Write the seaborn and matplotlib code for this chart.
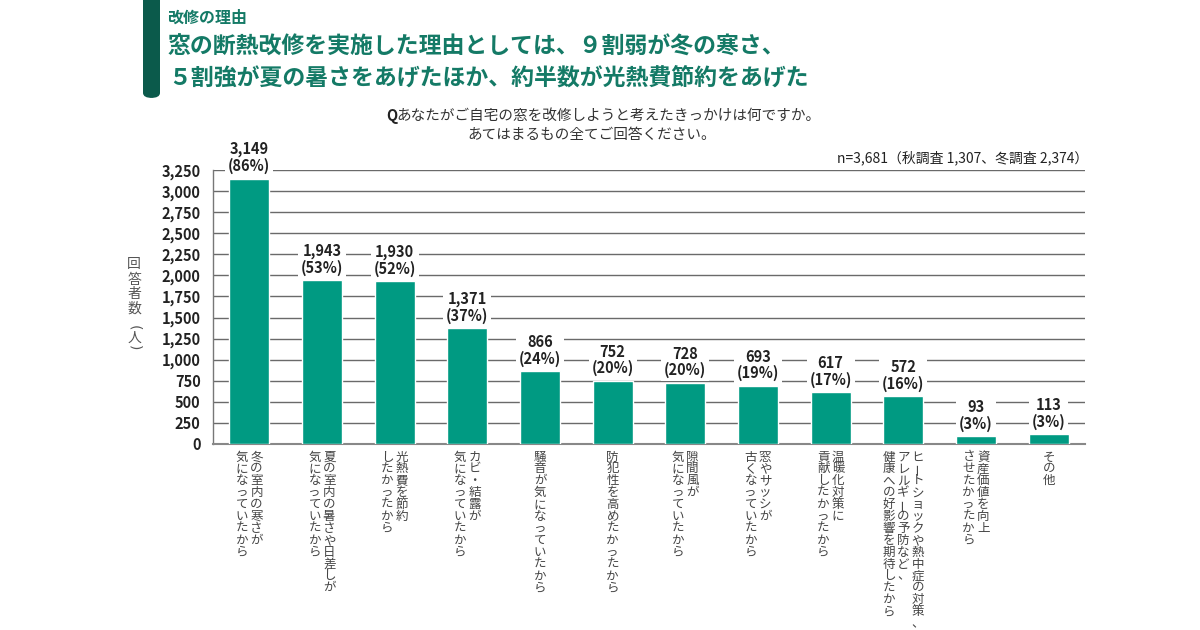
import matplotlib
matplotlib.use("Agg")
import matplotlib.pyplot as plt
import matplotlib.transforms as mtransforms
from matplotlib.patches import FancyBboxPatch
import seaborn as sns
import pandas as pd

# ---------------- data ----------------
categories = [
    "冬の室内の寒さが気になっていたから",
    "夏の室内の暑さや日差しが気になっていたから",
    "光熱費を節約したかったから",
    "カビ・結露が気になっていたから",
    "騒音が気になっていたから",
    "防犯性を高めたかったから",
    "隙間風が気になっていたから",
    "窓やサッシが古くなっていたから",
    "温暖化対策に貢献したかったから",
    "ヒートショックや熱中症の対策、アレルギーの予防など、健康への好影響を期待したから",
    "資産価値を向上させたかったから",
    "その他",
]
label_columns = [
    ["冬の室内の寒さが", "気になっていたから"],
    ["夏の室内の暑さや日差しが", "気になっていたから"],
    ["光熱費を節約", "したかったから"],
    ["カビ・結露が", "気になっていたから"],
    ["騒音が気になっていたから"],
    ["防犯性を高めたかったから"],
    ["隙間風が", "気になっていたから"],
    ["窓やサッシが", "古くなっていたから"],
    ["温暖化対策に", "貢献したかったから"],
    ["ヒートショックや熱中症の対策、", "アレルギーの予防など、", "健康への好影響を期待したから"],
    ["資産価値を向上", "させたかったから"],
    ["その他"],
]
counts = [3149, 1943, 1930, 1371, 866, 752, 728, 693, 617, 572, 93, 113]
percents = [86, 53, 52, 37, 24, 20, 20, 19, 17, 16, 3, 3]
y_ticks = [0, 250, 500, 750, 1000, 1250, 1500, 1750, 2000, 2250, 2500, 2750, 3000, 3250]

header_small = "改修の理由"
title_lines = ["窓の断熱改修を実施した理由としては、９割弱が冬の寒さ、",
               "５割強が夏の暑さをあげたほか、約半数が光熱費節約をあげた"]
question_q = "Q"
question_lines = ["あなたがご自宅の窓を改修しようと考えたきっかけは何ですか。",
                  "あてはまるもの全てご回答ください。"]
n_note = "n=3,681（秋調査 1,307、冬調査 2,374）"
y_label = ["回", "答", "者", "数", "(", "人", ")"]

# ---------------- style ----------------
sns.set_theme(style="white")
plt.rcParams["font.family"] = ["Noto Sans CJK JP", "DejaVu Sans"]
NUM_FONT = ["Noto Sans CJK JP", "DejaVu Sans"]

BAR = "#009a82"
DARK = "#0b5a4b"
TITLE = "#147a66"
TXT = "#333333"

W, H = 1200, 630
fig = plt.figure(figsize=(12, 6.3), dpi=100)
fig.patch.set_facecolor("white")


def fx(x):
    return x / W


def fy(y):
    return 1 - y / H


ax = fig.add_axes([fx(213), fy(444), fx(1085) - fx(213), fy(170) - fy(444)])

df = pd.DataFrame({"cat": categories, "count": counts})
sns.barplot(data=df, x="cat", y="count", color=BAR, saturation=1, width=0.55,
            ax=ax, zorder=3)

ax.set_xlim(-0.5, len(categories) - 0.5)
ax.set_ylim(0, 3250)
ax.set_yticks(y_ticks)
ax.set_yticklabels([f"{v:,}" for v in y_ticks], fontfamily=NUM_FONT,
                   fontweight="bold", fontsize=10.5, color="#222222")
ax.tick_params(axis="y", length=5, width=1, color="#666666", pad=4)
ax.set_xticks(range(len(categories)))
ax.set_xticklabels([])
ax.tick_params(axis="x", length=0)
ax.set_xlabel("")
ax.set_ylabel("")
ax.yaxis.grid(True, color="#6a6a6a", linewidth=1, zorder=0)
ax.set_axisbelow(True)
for s in ["top", "right"]:
    ax.spines[s].set_visible(False)
ax.spines["left"].set_color("#777777")
ax.spines["left"].set_linewidth(1)
ax.spines["bottom"].set_color("#888888")
ax.spines["bottom"].set_linewidth(1.5)

# value labels
for i, (c, p) in enumerate(zip(counts, percents)):
    ax.annotate(f"{c:,}\n({p}%)", xy=(i, c), xytext=(0, 3), textcoords="offset points",
                ha="center", va="bottom", fontsize=10.5, fontweight="bold",
                fontfamily=NUM_FONT, color="#222222", linespacing=1.05, zorder=5,
                bbox=dict(boxstyle="square,pad=0.2", fc="white", ec="none"))

# vertical category labels
blend = mtransforms.blended_transform_factory(ax.transData, fig.transFigure)
step = 11.9
col_gap = 14.5
for i, cols in enumerate(label_columns):
    n = len(cols)
    for j, col in enumerate(cols):
        dx = ((n - 1) / 2 - j) * col_gap
        off = mtransforms.ScaledTranslation(dx / 100, 0, fig.dpi_scale_trans)
        for k, ch in enumerate(col):
            rot = 90 if ch == "ー" else 0
            fig.text(i, fy(457 + k * step), ch, transform=blend + off,
                     ha="center", va="center", fontsize=9, color="#444444",
                     rotation=rot)

# y label (vertical)
y_pos = [264, 280, 294, 309, 328, 338, 348]
for ch, yy in zip(y_label, y_pos):
    if ch in "()":
        fig.text(fx(134), fy(yy), ch, ha="center", va="center", fontsize=10,
                 color="#555555", rotation=-90, rotation_mode="anchor",
                 family=["DejaVu Sans"])
    else:
        fig.text(fx(134), fy(yy), ch, ha="center", va="center",
                 fontsize=10, color="#555555")

# header
bar_patch = FancyBboxPatch((fx(143), fy(98)), fx(17), fy(-10) - fy(98),
                           boxstyle="round,pad=0,rounding_size=0.008",
                           transform=fig.transFigure, fc=DARK, ec="none")
fig.patches.append(bar_patch)
fig.text(fx(167), fy(18), header_small, ha="left", va="center", fontsize=11.5,
         fontweight="bold", color=TITLE)
fig.text(fx(168), fy(47), title_lines[0], ha="left", va="center", fontsize=16.5,
         fontweight="bold", color=TITLE)
fig.text(fx(168), fy(78), title_lines[1], ha="left", va="center", fontsize=16.5,
         fontweight="bold", color=TITLE)

fig.text(fx(386), fy(116), question_q, ha="left", va="center",
         fontsize=10.5, fontweight="bold", color="#222222")
fig.text(fx(396), fy(116), question_lines[0], ha="left", va="center",
         fontsize=10.5, color=TXT)
fig.text(fx(592), fy(135), question_lines[1], ha="center", va="center",
         fontsize=10.5, color=TXT)
fig.text(fx(1088), fy(158), n_note, ha="right", va="center", fontsize=10,
         color="#222222")

fig.savefig("out.png", dpi=100, facecolor="white")
